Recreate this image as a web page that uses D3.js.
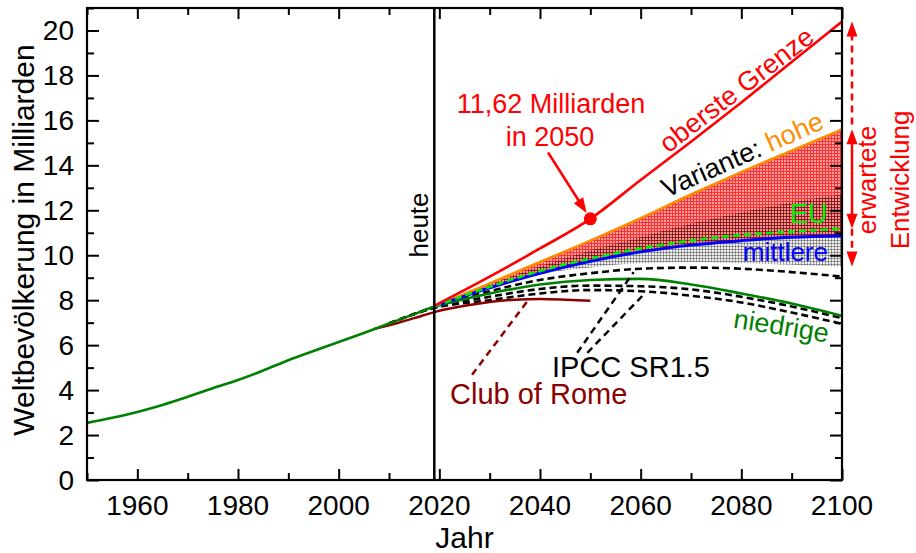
<!DOCTYPE html>
<html><head><meta charset="utf-8">
<script src="https://cdn.jsdelivr.net/npm/d3@7"></script>
<style>
body{margin:0;background:#fff}
text{font-family:"Liberation Sans",Arial,sans-serif}
</style>
</head><body>
<svg id="chart" width="916" height="553"></svg>
<script>
// Historical world population (billions)
const histYears  = [1950,1955,1960,1965,1970,1975,1980,1985,1990,1995,2000,2005,2010,2015,2019];
const histValues = [2.54,2.77,3.03,3.34,3.70,4.08,4.45,4.87,5.33,5.74,6.14,6.54,6.96,7.38,7.72];

// Projections 2019–2100
const projYears     = [2019,2030,2040,2050,2060,2070,2080,2090,2100];
const upperLimit    = [7.75,9.05,10.30,11.62,13.35,15.05,16.80,18.60,20.40];
const highVariant   = [7.72,8.75,9.70,10.65,11.65,12.70,13.70,14.65,15.60];
const mediumVariant = [7.72,8.55,9.20,9.73,10.15,10.45,10.65,10.80,10.87];
const lowVariant    = [7.72,8.30,8.70,8.90,8.95,8.70,8.30,7.85,7.30];
const euProjection  = [7.72,8.60,9.30,9.85,10.30,10.65,10.90,11.05,11.18];
const upper95       = [7.72,8.70,9.50,10.20,10.80,11.40,11.90,12.35,12.70];
const lower95       = [7.72,8.50,9.15,9.45,9.65,9.70,9.65,9.58,9.50];

// IPCC SR1.5 pathways
const ipccYears = [2010,2019,2030,2040,2050,2060,2070,2080,2090,2100];
const ipccA = [6.96,7.70,8.40,8.90,9.20,9.40,9.45,9.40,9.25,9.05];
const ipccB = [6.96,7.68,8.15,8.50,8.65,8.62,8.48,8.15,7.72,7.20];
const ipccC = [6.96,7.65,8.00,8.30,8.45,8.40,8.20,7.90,7.45,6.95];

// Club of Rome
const clubYears  = [2007,2010,2015,2019,2025,2030,2035,2040,2045,2050];
const clubValues = [6.72,6.88,7.20,7.47,7.75,7.92,8.02,8.05,8.02,7.97];

// Axis ticks
const xMajorTicks = [1960,1980,2000,2020,2040,2060,2080,2100];
const xMinorTicks = [1950,1970,1990,2010,2030,2050,2070,2090];
const yMajorTicks = [0,2,4,6,8,10,12,14,16,18,20];
const yMinorTicks = [1,3,5,7,9,11,13,15,17,19,21];

const todayYear = 2019;
const markYear = 2050, markValue = 11.62;

const svg = d3.select("#chart");
const L = 87, R = 842, T = 8, B = 480;
const x = d3.scaleLinear().domain([1950,2100]).range([L,R]);
const y = d3.scaleLinear().domain([0,21]).range([B,T]);

const defs = svg.append("defs");
const pr = defs.append("pattern").attr("id","gridRed").attr("width",3).attr("height",3)
  .attr("patternUnits","userSpaceOnUse");
pr.append("rect").attr("width",3).attr("height",3).attr("fill","#ffa0a0");
pr.append("path").attr("d","M0 0.5H3M0.5 0V3").attr("stroke","#ff3030").attr("stroke-width",1);
const pg = defs.append("pattern").attr("id","gridGray").attr("width",3).attr("height",3)
  .attr("patternUnits","userSpaceOnUse");
pg.append("rect").attr("width",3).attr("height",3).attr("fill","rgba(0,0,0,0.07)");
pg.append("path").attr("d","M0 0.5H3M0.5 0V3").attr("stroke","rgba(0,0,0,0.33)").attr("stroke-width",1);
defs.append("clipPath").attr("id","plotClip").append("rect")
  .attr("x",L).attr("y",T).attr("width",R-L).attr("height",B-T);

const plot = svg.append("g").attr("clip-path","url(#plotClip)");

const zip = (xs, ys) => xs.map((d,i)=>[d, ys[i]]);
const line = d3.line().x(d=>x(d[0])).y(d=>y(d[1])).curve(d3.curveMonotoneX);
const band = (lo, hi) => d3.area().x((d,i)=>x(projYears[i])).y0((d,i)=>y(lo[i])).y1((d,i)=>y(hi[i]))
  .curve(d3.curveMonotoneX)(projYears);

// uncertainty areas
plot.append("path").attr("d", band(mediumVariant, highVariant)).attr("fill","url(#gridRed)");
plot.append("path").attr("d", band(lower95, upper95)).attr("fill","url(#gridGray)");

function drawLine(xs, ys, color, w, dash){
  const p = plot.append("path").attr("d", line(zip(xs,ys))).attr("fill","none")
    .attr("stroke", color).attr("stroke-width", w).attr("stroke-linejoin","round");
  if (dash) p.attr("stroke-dasharray", dash);
  return p;
}

drawLine(ipccYears, ipccA, "#000", 2.6, "7,4");
drawLine(ipccYears, ipccB, "#000", 2.6, "7,4");
drawLine(ipccYears, ipccC, "#000", 2.6, "7,4");
drawLine(clubYears, clubValues, "#8b0000", 2.5);
drawLine(projYears, lowVariant, "#008000", 2.6);
drawLine(histYears, histValues, "#008000", 2.6);
drawLine(projYears, highVariant, "#ff8c00", 2.6);
drawLine(projYears, mediumVariant, "#0000ff", 3);
drawLine(projYears, euProjection, "#00ee00", 2.6, "7,4");
drawLine(projYears, upperLimit, "#ff0000", 2.6);

// "heute" marker
svg.append("line").attr("x1",x(todayYear)).attr("x2",x(todayYear)).attr("y1",T).attr("y2",B)
  .attr("stroke","#000").attr("stroke-width",2.5);

// annotation connectors
function connector(a, b, color){
  svg.append("line").attr("x1",x(a[0])).attr("y1",y(a[1])).attr("x2",x(b[0])).attr("y2",y(b[1]))
    .attr("stroke",color).attr("stroke-width",2.5).attr("stroke-dasharray","7,5");
}
connector([2026.5,4.68],[2037.4,7.93],"#8b0000");
connector([2047.4,5.66],[2058.6,9.25],"#000");
connector([2049.4,5.66],[2060.8,8.30],"#000");

// arrow to the 2050 value
const ax0 = x(2041.6), ay0 = y(14.57), ax1 = x(markYear), ay1 = y(markValue);
const ang = Math.atan2(ay1-ay0, ax1-ax0);
const tipX = ax1 - 7*Math.cos(ang), tipY = ay1 - 7*Math.sin(ang);
svg.append("line").attr("x1",ax0).attr("y1",ay0).attr("x2",tipX-10*Math.cos(ang)).attr("y2",tipY-10*Math.sin(ang))
  .attr("stroke","#ff0000").attr("stroke-width",2.5);
function head(tx, ty, a, len, half, color){
  const bx = tx - len*Math.cos(a), by = ty - len*Math.sin(a);
  const px = -Math.sin(a)*half, py = Math.cos(a)*half;
  svg.append("path").attr("d",`M${tx},${ty}L${bx+px},${by+py}L${bx-px},${by-py}Z`).attr("fill",color);
}
head(tipX, tipY, ang, 15, 5.5, "#ff0000");
svg.append("circle").attr("cx",ax1).attr("cy",ay1).attr("r",6.5).attr("fill","#ff0000");

// range arrows beside the plot
const arrX = 852;
const last = a => a[a.length-1];
const yTop = y(last(upperLimit)), yHigh = y(last(highVariant)), yEu = y(last(euProjection)), yLow = y(last(lower95));
svg.append("line").attr("x1",arrX).attr("x2",arrX).attr("y1",yTop+12).attr("y2",yHigh)
  .attr("stroke","#ff0000").attr("stroke-width",2.5).attr("stroke-dasharray","7,5");
svg.append("line").attr("x1",arrX).attr("x2",arrX).attr("y1",yHigh+12).attr("y2",yEu-12)
  .attr("stroke","#ff0000").attr("stroke-width",2.5);
svg.append("line").attr("x1",arrX).attr("x2",arrX).attr("y1",yEu).attr("y2",yLow-12)
  .attr("stroke","#ff0000").attr("stroke-width",2.5).attr("stroke-dasharray","7,5");
head(arrX, yTop, -Math.PI/2, 15, 5.5, "#ff0000");
head(arrX, yHigh, -Math.PI/2, 15, 5.5, "#ff0000");
head(arrX, yEu, Math.PI/2, 15, 5.5, "#ff0000");
head(arrX, yLow, Math.PI/2, 15, 5.5, "#ff0000");

// axes: ticks point inward on all four sides
const axG = svg.append("g");
function ticks(axisFn, scale, vals, size, tr){
  axG.append("g").attr("transform",tr)
    .call(axisFn(scale).tickValues(vals).tickSize(size).tickFormat(""))
    .call(g=>g.select(".domain").remove())
    .call(g=>g.selectAll("line").attr("stroke","#000").attr("stroke-width",2));
}
ticks(d3.axisBottom, x, xMajorTicks, -11, `translate(0,${B})`);
ticks(d3.axisBottom, x, xMinorTicks, -7, `translate(0,${B})`);
ticks(d3.axisTop, x, xMajorTicks, -11, `translate(0,${T})`);
ticks(d3.axisTop, x, xMinorTicks, -7, `translate(0,${T})`);
ticks(d3.axisLeft, y, yMajorTicks, -12, `translate(${L},0)`);
ticks(d3.axisLeft, y, yMinorTicks, -7, `translate(${L},0)`);
ticks(d3.axisRight, y, yMajorTicks, -12, `translate(${R},0)`);
ticks(d3.axisRight, y, yMinorTicks, -7, `translate(${R},0)`);
svg.append("rect").attr("x",L).attr("y",T).attr("width",R-L).attr("height",B-T)
  .attr("fill","none").attr("stroke","#000").attr("stroke-width",2.2);

// tick labels
svg.append("g").selectAll("text").data(xMajorTicks).join("text")
  .attr("x",d=>x(d)).attr("y",515).attr("text-anchor","middle").attr("font-size",28).text(d=>d);
svg.append("g").selectAll("text").data(yMajorTicks).join("text")
  .attr("x",74).attr("y",d=>y(d)+10).attr("text-anchor","end").attr("font-size",28).text(d=>d);

// axis titles
svg.append("text").attr("x",(L+R)/2).attr("y",548).attr("text-anchor","middle").attr("font-size",30).text("Jahr");
svg.append("text").attr("transform",`translate(34,${(T+B)/2 - 4}) rotate(-90)`).attr("text-anchor","middle")
  .attr("font-size",30).text("Weltbevölkerung in Milliarden");

// labels
function label(txt, px, py, opts){
  const t = svg.append("text").attr("font-size",opts.size||27).attr("fill",opts.color||"#000")
    .attr("text-anchor",opts.anchor||"middle")
    .attr("transform",`translate(${px},${py}) rotate(${opts.rot||0})`);
  t.text(txt);
  return t;
}
label("heute", 428, 225, {rot:-90, size:26});
label("11,62 Milliarden", x(2042.2), y(16.35), {color:"#ff0000"});
label("in 2050", x(2042.0), y(14.88), {color:"#ff0000"});
label("oberste Grenze", 742, 97, {color:"#ff0000", rot:-37.5});
const v = label("", 746, 163, {rot:-23.8});
v.append("tspan").attr("fill","#000").text("Variante: ");
v.append("tspan").attr("fill","#ff8c00").text("hohe");
label("EU", 790, 223, {color:"#00ee00", anchor:"start"});
label("mittlere", 828, 261, {color:"#0000ff", anchor:"end", size:26});
label("niedrige", 780, 335, {color:"#008000", rot:9});
label("IPCC SR1.5", 552, 377, {anchor:"start", size:29});
label("Club of Rome", 450, 404, {color:"#8b0000", anchor:"start", size:29});
label("erwartete", 876, 180, {color:"#ff0000", rot:-90, size:26});
label("Entwicklung", 909, 180, {color:"#ff0000", rot:-90, size:26});
</script>
</body></html>
